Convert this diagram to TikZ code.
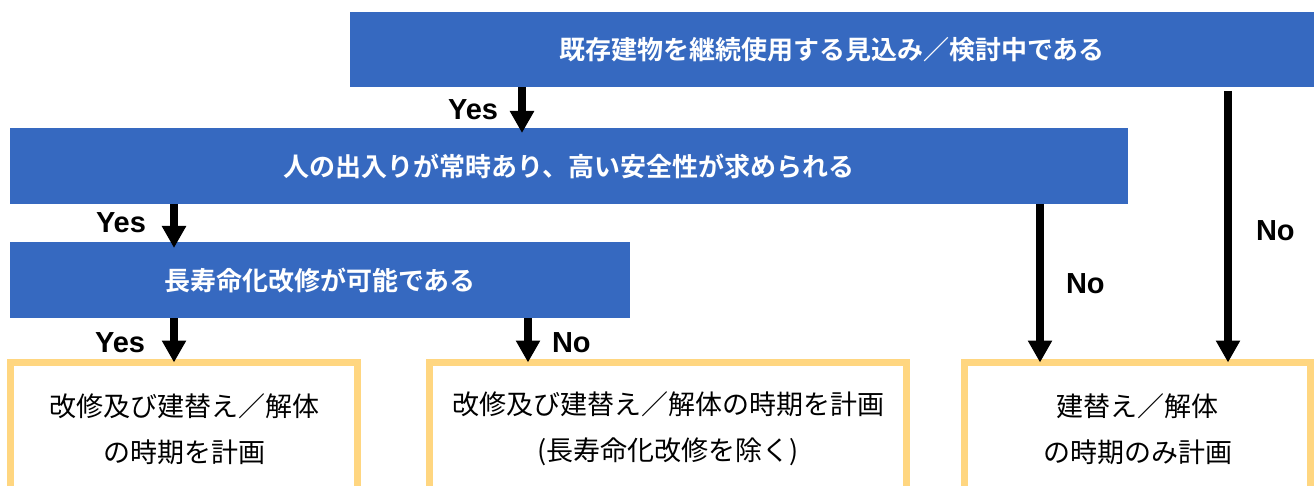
\documentclass[tikz,border=0pt]{standalone}
\usepackage{fontspec}
\newfontfamily\jpfont{Noto Sans CJK JP}[BoldFont={Noto Sans CJK JP Bold}]
\newfontfamily\lblfont{Liberation Sans}
\usetikzlibrary{arrows.meta}
\definecolor{askblue}{RGB}{54,105,192}
\definecolor{planyellow}{RGB}{255,214,128}
\tikzset{
  askbox/.style={fill=askblue, inner sep=0pt, outer sep=0pt, text=white, font=\jpfont\bfseries\fontsize{26}{30}\selectfont},
  planbox/.style={draw=planyellow, line width=7pt, inner sep=0pt, outer sep=0pt, anchor=north west},
  plantext/.style={align=center, inner sep=0pt, font=\jpfont\fontsize{27}{46}\selectfont},
  arr/.style={line width=8pt, -{Triangle[width=23pt,length=22pt]}},
  lbl/.style={font=\lblfont\bfseries\fontsize{29}{32}\selectfont, inner sep=0pt}
}
\begin{document}
\begin{tikzpicture}[x=1pt, y=-1pt]
\useasboundingbox (0,0) rectangle (1314,486);
\clip (0,0) rectangle (1314,486);
% questions
\node[askbox, minimum width=964pt, minimum height=75pt] (ask1) at (832,49.5) {既存建物を継続使用する見込み／検討中である};
\node[askbox, minimum width=1118pt, minimum height=76pt] (ask2) at (569,166) {人の出入りが常時あり、高い安全性が求められる};
\node[askbox, minimum width=620pt, minimum height=76pt] (ask3) at (320,280) {長寿命化改修が可能である};
% results
\node[planbox, minimum width=347pt, minimum height=160pt] (plan1) at (10.5,362.5) {};
\node[planbox, minimum width=477pt, minimum height=160pt] (plan2) at (429.5,362.5) {};
\node[planbox, minimum width=346pt, minimum height=160pt] (plan3) at (964.5,362.5) {};
\node[plantext] (plan1txt) at ([yshift=-66.5pt]plan1.north) {改修及び建替え／解体\\の時期を計画};
\node[plantext] (plan2txt) at ([yshift=-66.5pt]plan2.north) {改修及び建替え／解体の時期を計画\\(長寿命化改修を除く)};
\node[plantext] (plan3txt) at ([yshift=-66.5pt]plan3.north) {建替え／解体\\の時期のみ計画};
% arrow columns
\coordinate (c1) at (522,0);
\coordinate (c2) at (174,0);
\coordinate (c3) at (528,0);
\coordinate (c4) at (1040,0);
\coordinate (c5) at (1228,0);
\path[arr, shorten >=-5pt] (c1 |- ask1.south) edge node[lbl, pos=.55, left=20pt] {Yes} (c1 |- ask2.north);
\path[arr, shorten >=-6pt] (c2 |- ask2.south) edge node[lbl, pos=.48, left=24pt] {Yes} (c2 |- ask3.north);
\path[arr] (c2 |- ask3.south) edge node[lbl, pos=.55, left=25pt] {Yes} (c2 |- plan1.north);
\path[arr] (c3 |- ask3.south) edge node[lbl, pos=.55, right=20pt] {No} (c3 |- plan2.north);
\path[arr] (c4 |- ask2.south) edge node[lbl, pos=.5, right=22pt] {No} (c4 |- plan3.north);
\path[arr, shorten <=4pt] (c5 |- ask1.south) edge node[lbl, pos=.52, right=24pt] {No} (c5 |- plan3.north);
\end{tikzpicture}
\end{document}
